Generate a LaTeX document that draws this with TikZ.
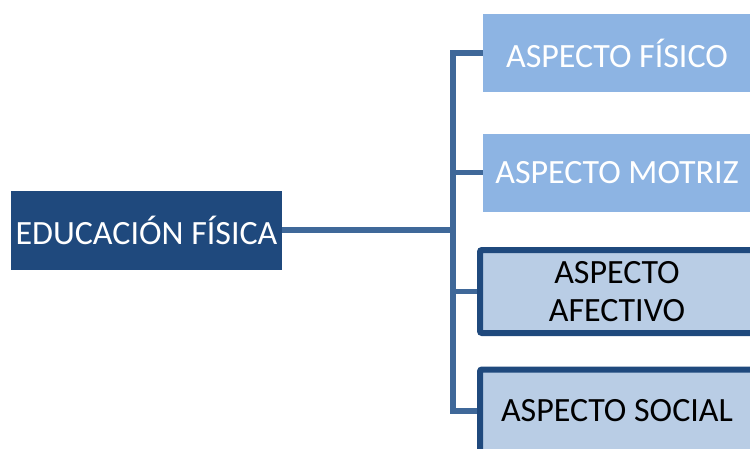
\documentclass[tikz,border=0pt]{standalone}
\usepackage{fontspec}
\setmainfont{Carlito}
\usetikzlibrary{backgrounds}
\definecolor{darkblue}{RGB}{31,73,125}
\definecolor{lightblue}{RGB}{141,180,227}
\definecolor{paleblue}{RGB}{185,205,229}
\definecolor{linkblue}{RGB}{63,104,153}
\tikzset{
  txt/.style={font=\fontsize{34}{38}\selectfont, align=center, inner sep=0pt},
  rootbox/.style={txt, fill=darkblue, text=white, minimum width=271pt, minimum height=79pt},
  lightbox/.style={txt, fill=lightblue, text=white, minimum width=268pt, minimum height=78pt},
  palebox/.style={txt, fill=paleblue, draw=darkblue, line width=6pt, rounded corners=2pt, text=black, minimum width=274pt, minimum height=83pt},
  link/.style={draw=linkblue, line width=5.5pt}
}
\begin{document}
\begin{tikzpicture}[x=1pt,y=-1pt]
\useasboundingbox (0,0) rectangle (750,448);
\clip (0,0) rectangle (750,448);
\node[rootbox] (root) at (146.5,230) {EDUCACIÓN FÍSICA};
\node[lightbox] (b1) at (617,53) {ASPECTO FÍSICO};
\node[lightbox] (b2) at (617,172.5) {ASPECTO MOTRIZ};
\node[palebox] (b3) at (617,291.5) {ASPECTO\\AFECTIVO};
\node[palebox] (b4) at (617,411) {ASPECTO SOCIAL};
\coordinate (j) at (453,230);
\begin{scope}[on background layer]
\draw[link] (root.east) -- (j);
\draw[link] (b1.west) -- (b1.west -| j) -- (b4.west -| j) -- (b4.west);
\draw[link] (b2.west) -- (b2.west -| j);
\draw[link] (b3.west) -- (b3.west -| j);
\end{scope}
\end{tikzpicture}
\end{document}
